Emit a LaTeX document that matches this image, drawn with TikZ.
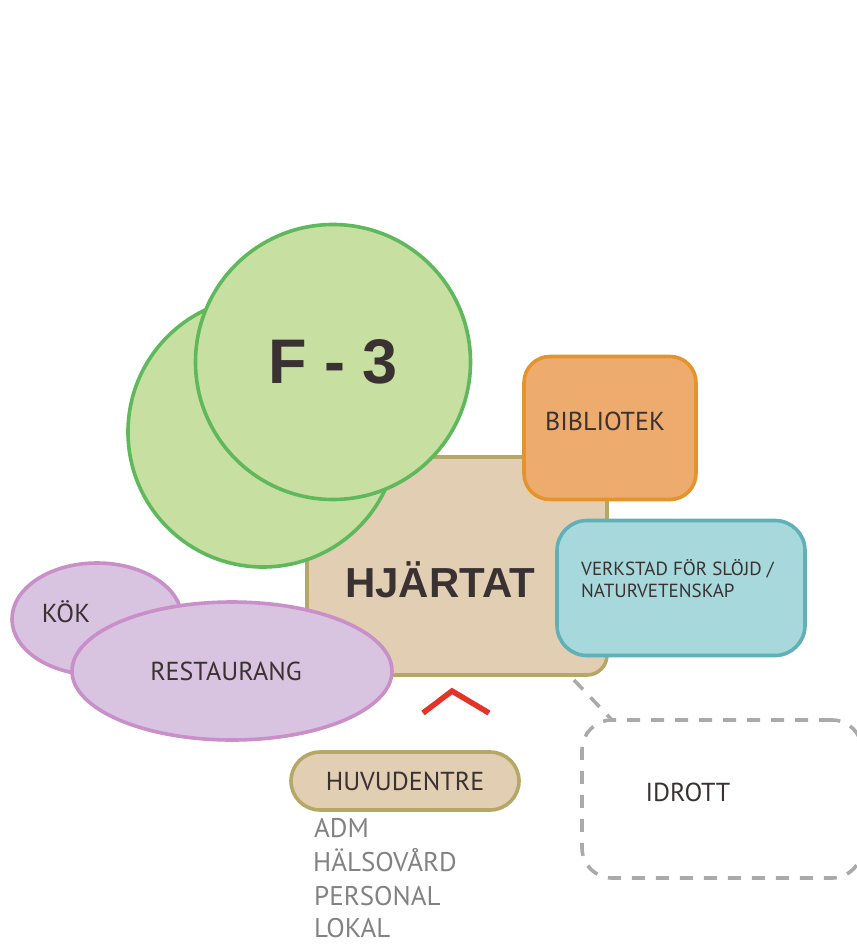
\documentclass[tikz,border=0pt]{standalone}
\usepackage{fontspec}
\setmainfont{PT Sans}
\newfontfamily\heavyfont{Liberation Sans}
\usetikzlibrary{shapes.geometric}

\definecolor{leaf}{RGB}{199,223,160}
\definecolor{leafline}{RGB}{95,184,92}
\definecolor{sand}{RGB}{226,206,178}
\definecolor{sandline}{RGB}{181,168,102}
\definecolor{peach}{RGB}{237,172,110}
\definecolor{peachline}{RGB}{229,148,45}
\definecolor{aqua}{RGB}{166,216,220}
\definecolor{aqualine}{RGB}{96,176,184}
\definecolor{lilac}{RGB}{216,196,225}
\definecolor{lilacline}{RGB}{200,143,200}
\definecolor{ink}{RGB}{58,50,50}
\definecolor{mist}{RGB}{170,170,170}
\definecolor{note}{RGB}{130,130,130}
\definecolor{entryred}{RGB}{228,52,40}

\begin{document}
\begin{tikzpicture}[x=1pt, y=-1pt,
    zone/.style={draw, line width=3.6pt, inner sep=0pt, text=ink},
    roomlabel/.style={text=ink, inner sep=0pt, font=\fontsize{26}{30}\selectfont},
    notelabel/.style={text=note, inner sep=0pt, anchor=base west, font=\fontsize{27}{30}\selectfont}]
    \useasboundingbox (0,0) rectangle (856,944);

    % heart of the school
    \node[zone, rectangle, rounded corners=20pt, fill=sand, draw=sandline,
        minimum width=300pt, minimum height=218pt] (hjartat) at (457,566) {};

    % F-3 circles
    \node[zone, circle, fill=leaf, draw=leafline, minimum size=270pt] (f3back) at (263,432) {};
    \node[zone, circle, fill=leaf, draw=leafline, minimum size=275pt,
        font=\heavyfont\bfseries\fontsize{63}{70}\selectfont] (f3) at (333,362) {F - 3};

    % side rooms
    \node[zone, rectangle, rounded corners=26pt, fill=peach, draw=peachline,
        minimum width=172pt, minimum height=143pt] (bibliotek) at (610,428) {};
    \node[roomlabel] (bibliotektext) at (605,421) {BIBLIOTEK};

    \node[zone, rectangle, rounded corners=30pt, fill=aqua, draw=aqualine,
        minimum width=248pt, minimum height=135pt] (verkstad) at (681,588) {};
    \node[text=ink, inner sep=0pt, anchor=west, align=left,
        font=\fontsize{19}{22}\selectfont] (verkstadtext) at (581,579)
        {VERKSTAD FÖR SLÖJD /\\NATURVETENSKAP};

    \node[zone, ellipse, fill=lilac, draw=lilacline,
        minimum width=170pt, minimum height=112pt] (kok) at (97,619) {};
    \node[roomlabel] (koktext) at (66,612) {KÖK};
    \node[zone, ellipse, fill=lilac, draw=lilacline,
        minimum width=320pt, minimum height=138pt] (restaurang) at (232,671) {};
    \node[roomlabel] (restaurangtext) at (226,671) {RESTAURANG};

    \node[text=ink, inner sep=0pt, font=\heavyfont\bfseries\fontsize{42}{46}\selectfont]
        (hjartattext) at (440,580) {HJÄRTAT};

    % entrance
    \draw[entryred, line width=5.5pt] (423,713) -- (452,691) -- (489,713);
    \node[zone, rectangle, rounded corners=29pt, fill=sand, draw=sandline,
        minimum width=228pt, minimum height=58pt, roomlabel] (huvudentre) at (405,781) {HUVUDENTRE};
    \node[notelabel] (adm) at (314,837) {ADM};
    \node[notelabel] (halsovard) at (313,871) {HÄLSOVÅRD};
    \node[notelabel] (personal) at (314,905) {PERSONAL};
    \node[notelabel] (lokal) at (314,937) {LOKAL};

    % sports hall
    \node[zone, rectangle, rounded corners=30pt, draw=mist, line width=3.6pt,
        dash pattern=on 13pt off 11pt, minimum width=280pt, minimum height=158pt] (idrott) at (722,799) {};
    \node[roomlabel] (idrotttext) at (688,792) {IDROTT};
    \coordinate (linka) at (574,680);
    \coordinate (linkb) at (612,720);
    \draw[mist, line width=3.6pt, dash pattern=on 13pt off 11pt] (linka) -- (linkb);
\end{tikzpicture}
\end{document}
